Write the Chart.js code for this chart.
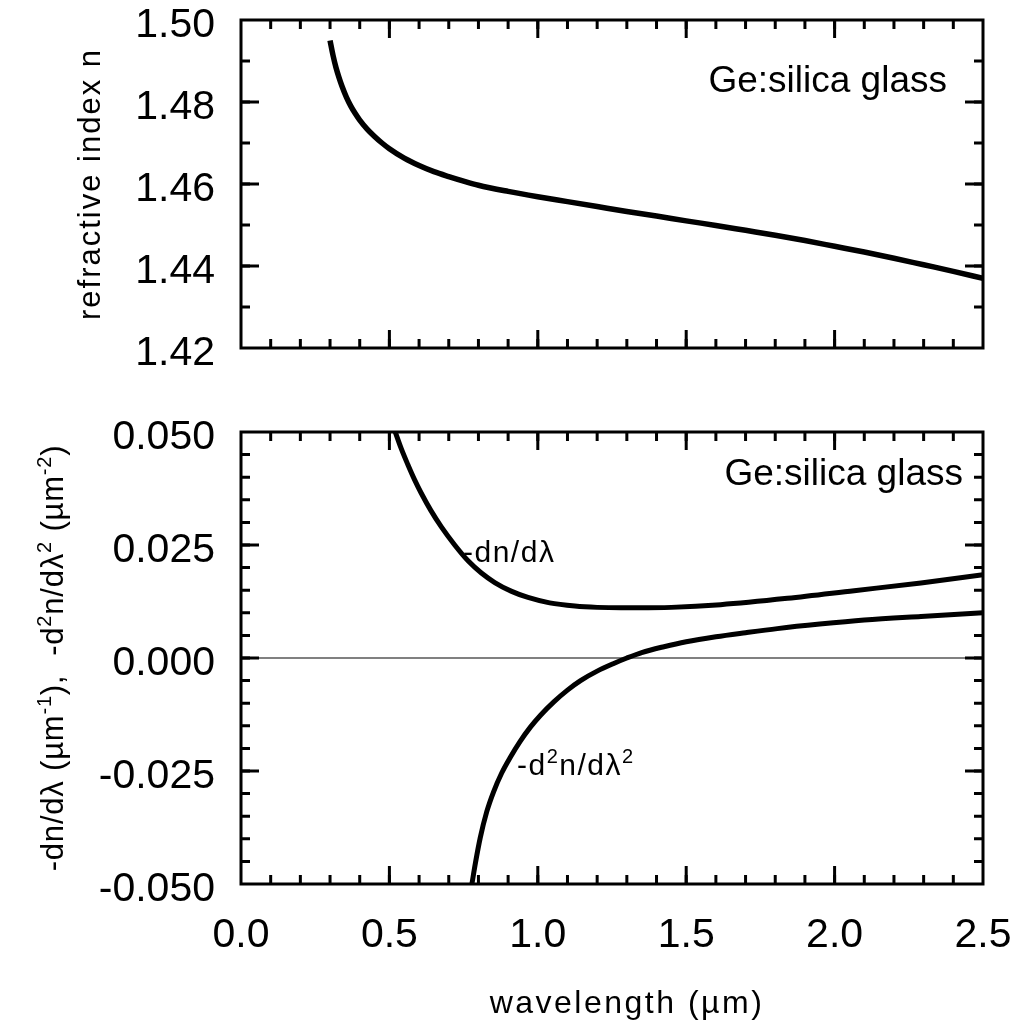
<!DOCTYPE html>
<html>
<head>
<meta charset="utf-8">
<script src="https://cdn.jsdelivr.net/npm/chart.js@4.4.1/dist/chart.umd.min.js"></script>
<style>
  html, body { margin: 0; padding: 0; background: #fff; }
  #wrap { position: relative; width: 1023px; height: 1023px; }
  #topChart { position: absolute; left: 0; top: 0; }
  #bottomChart { position: absolute; left: 0; top: 400px; }
</style>
</head>
<body>
<div id="wrap">
  <canvas id="topChart" width="1023" height="400"></canvas>
  <canvas id="bottomChart" width="1023" height="623"></canvas>
</div>
<script>
/* --- Data --- */
// top panel: refractive index n
const nWavelength = [0.30, 0.31, 0.32, 0.33, 0.34, 0.355, 0.37, 0.385, 0.40, 0.425, 0.45, 0.475, 0.50, 0.55, 0.60, 0.65, 0.70, 0.75, 0.80, 0.90, 1.00, 1.10, 1.20, 1.30, 1.40, 1.50, 1.60, 1.70, 1.80, 1.90, 2.00, 2.10, 2.20, 2.30, 2.40, 2.50];
const refractiveIndex = [1.4950, 1.4914, 1.4884, 1.4860, 1.4839, 1.4812, 1.4790, 1.4772, 1.4756, 1.4734, 1.4716, 1.4700, 1.4686, 1.4663, 1.4645, 1.4630, 1.4618, 1.4607, 1.4597, 1.4582, 1.4569, 1.4557, 1.4545, 1.4533, 1.4522, 1.4510, 1.4499, 1.4487, 1.4475, 1.4462, 1.4448, 1.4434, 1.4419, 1.4403, 1.4387, 1.4370];

// bottom panel: -dn/dλ
const dnWavelength = [0.517, 0.54, 0.562, 0.585, 0.607, 0.64, 0.675, 0.72, 0.765, 0.81, 0.855, 0.91, 0.967, 1.04, 1.125, 1.20, 1.28, 1.34, 1.45, 1.616, 1.841, 2.066, 2.291, 2.50];
const negDnDl = [0.0505, 0.0463, 0.0428, 0.0394, 0.0365, 0.0326, 0.0290, 0.0250, 0.0215, 0.0188, 0.0167, 0.0148, 0.0134, 0.0122, 0.0115, 0.0112, 0.0111, 0.0111, 0.0112, 0.0118, 0.0132, 0.0149, 0.0166, 0.0184];

// bottom panel: -d²n/dλ²
const d2nWavelength = [0.778, 0.79, 0.806, 0.828, 0.851, 0.878, 0.908, 0.94, 0.975, 1.01, 1.054, 1.10, 1.144, 1.20, 1.256, 1.30, 1.35, 1.425, 1.50, 1.60, 1.70, 1.807, 1.95, 2.10, 2.291, 2.50];
const negD2nDl2 = [-0.0500, -0.0453, -0.0398, -0.0340, -0.0296, -0.0255, -0.0219, -0.0185, -0.0153, -0.0126, -0.0097, -0.0071, -0.0050, -0.0029, -0.0012, 0.0000, 0.0012, 0.0025, 0.0036, 0.0047, 0.0056, 0.0065, 0.0075, 0.0084, 0.0092, 0.0100];

// zero reference line
const zeroX = [0, 2.5];
const zeroY = [0, 0];

// axes
const xRange = [0, 2.5];
const xMajor = 0.5, xMinor = 0.1;
const nRange = [1.42, 1.50];
const nMajor = 0.02, nMinor = 0.01;
const dRange = [-0.05, 0.05];
const dMajor = 0.025, dMinor = 0.005;

const FONT = "'Liberation Sans', Arial, sans-serif";
const toXY = (xs, ys) => xs.map((x, i) => ({ x, y: ys[i] }));

/* --- rich text helper (superscripts) --- */
function drawRich(ctx, runs, x, y, size, align, spacing) {
    ctx.letterSpacing = (spacing || 0) + 'px';
    const supSize = Math.round(size * 0.66);
    let total = 0;
    const widths = runs.map(([t, sup]) => {
        ctx.font = (sup ? supSize : size) + 'px ' + FONT;
        const w = ctx.measureText(t).width;
        total += w;
        return w;
    });
    let cx = align === 'right' ? x - total : align === 'center' ? x - total / 2 : x;
    ctx.textAlign = 'left';
    ctx.textBaseline = 'alphabetic';
    runs.forEach(([t, sup], i) => {
        ctx.font = (sup ? supSize : size) + 'px ' + FONT;
        ctx.fillText(t, cx, sup ? y - size * 0.4 : y);
        cx += widths[i];
    });
    ctx.letterSpacing = '0px';
}

/* --- frame + inward ticks on all four sides --- */
const frameTicks = {
    id: 'frameTicks',
    afterDatasetsDraw(chart, args, opts) {
        const { ctx, chartArea: a, scales: { x, y } } = chart;
        ctx.save();
        ctx.strokeStyle = '#000';
        ctx.lineWidth = 3;
        const mark = (scale, step, len) => {
            const n = Math.round((scale.max - scale.min) / step);
            for (let i = 1; i < n; i++) {
                const p = scale.getPixelForValue(scale.min + i * step);
                ctx.beginPath();
                if (scale.isHorizontal()) {
                    ctx.moveTo(p, a.bottom); ctx.lineTo(p, a.bottom - len);
                    ctx.moveTo(p, a.top); ctx.lineTo(p, a.top + len);
                } else {
                    ctx.moveTo(a.left, p); ctx.lineTo(a.left + len, p);
                    ctx.moveTo(a.right, p); ctx.lineTo(a.right - len, p);
                }
                ctx.stroke();
            }
        };
        mark(x, opts.xMinor, 9);
        mark(x, opts.xMajor, 18);
        mark(y, opts.yMinor, 9);
        mark(y, opts.yMajor, 18);
        ctx.strokeRect(a.left, a.top, a.right - a.left, a.bottom - a.top);
        ctx.restore();
    }
};

/* --- free text (annotations, axis titles) --- */
const freeText = {
    id: 'freeText',
    afterDraw(chart, args, opts) {
        const { ctx } = chart;
        ctx.save();
        ctx.fillStyle = '#000';
        (opts.items || []).forEach(item => {
            const pos = item.at(chart);
            ctx.save();
            ctx.translate(pos.x, pos.y);
            if (item.rotate) ctx.rotate(item.rotate);
            drawRich(ctx, item.runs, 0, 0, item.size, item.align, item.spacing);
            ctx.restore();
        });
        ctx.restore();
    }
};

function yAxis(range, step, digits) {
    return {
        type: 'linear',
        min: range[0], max: range[1],
        grid: { display: false, drawTicks: false },
        border: { display: false },
        ticks: {
            stepSize: step,
            color: '#000',
            font: { family: FONT, size: 41 },
            padding: 26,
            labelOffset: 6,
            callback: (v) => Number(v).toFixed(digits)
        },
        afterFit: (s) => { s.width = 241; s.paddingTop = 0; s.paddingBottom = 0; }
    };
}

function curve(xs, ys, width) {
    return {
        data: toXY(xs, ys),
        borderColor: '#000',
        borderWidth: width,
        pointRadius: 0,
        fill: false,
        cubicInterpolationMode: 'monotone'
    };
}

Chart.defaults.animation = false;
Chart.defaults.plugins.legend.display = false;
Chart.defaults.plugins.tooltip.enabled = false;

/* --- top panel --- */
new Chart(document.getElementById('topChart'), {
    type: 'line',
    data: { datasets: [curve(nWavelength, refractiveIndex, 5.5)] },
    options: {
        responsive: false,
        layout: { padding: { left: 0, top: 20, right: 40, bottom: 52 } },
        scales: {
            x: {
                type: 'linear', min: xRange[0], max: xRange[1],
                grid: { display: false, drawTicks: false },
                border: { display: false },
                ticks: { display: false, stepSize: xMajor },
                afterFit: (s) => { s.height = 0; s.paddingLeft = 0; s.paddingRight = 0; }
            },
            y: yAxis(nRange, nMajor, 2)
        },
        plugins: {
            frameTicks: { xMajor, xMinor, yMajor: nMajor, yMinor: nMinor },
            freeText: {
                items: [
                    { runs: [['Ge:silica glass']], size: 37, align: 'right',
                      at: (c) => ({ x: c.chartArea.right - 36, y: c.chartArea.top + 72 }) },
                    { runs: [['refractive index n']], size: 31, align: 'center', spacing: 2,
                      rotate: -Math.PI / 2,
                      at: (c) => ({ x: 100, y: (c.chartArea.top + c.chartArea.bottom) / 2 }) }
                ]
            }
        }
    },
    plugins: [frameTicks, freeText]
});

/* --- bottom panel --- */
new Chart(document.getElementById('bottomChart'), {
    type: 'line',
    data: {
        datasets: [
            curve(dnWavelength, negDnDl, 5),
            curve(d2nWavelength, negD2nDl2, 5),
            { data: toXY(zeroX, zeroY), borderColor: '#808080', borderWidth: 2, pointRadius: 0 }
        ]
    },
    options: {
        responsive: false,
        layout: { padding: { left: 0, top: 32, right: 40, bottom: 0 } },
        scales: {
            x: {
                type: 'linear', min: xRange[0], max: xRange[1],
                grid: { display: false, drawTicks: false },
                border: { display: false },
                ticks: {
                    stepSize: xMajor,
                    color: '#000',
                    font: { family: FONT, size: 41 },
                    padding: 27,
                    maxRotation: 0,
                    callback: (v) => Number(v).toFixed(1)
                },
                afterFit: (s) => { s.height = 139; s.paddingLeft = 0; s.paddingRight = 0; }
            },
            y: yAxis(dRange, dMajor, 3)
        },
        plugins: {
            frameTicks: { xMajor, xMinor, yMajor: dMajor, yMinor: dMinor },
            freeText: {
                items: [
                    { runs: [['Ge:silica glass']], size: 37, align: 'right',
                      at: (c) => ({ x: c.chartArea.right - 20, y: c.chartArea.top + 53 }) },
                    { runs: [['-dn/dλ']], size: 30, align: 'left', spacing: 1.5,
                      at: (c) => ({ x: c.scales.x.getPixelForValue(0.748), y: c.scales.y.getPixelForValue(0.0212) }) },
                    { runs: [['-d'], ['2', true], ['n/dλ'], ['2', true]], size: 30, align: 'left', spacing: 1.5,
                      at: (c) => ({ x: c.scales.x.getPixelForValue(0.93), y: c.scales.y.getPixelForValue(-0.0258) }) },
                    { runs: [['-dn/dλ (µm'], ['-1', true], ['),  -d'], ['2', true], ['n/dλ'], ['2', true], [' (µm'], ['-2', true], [')']],
                      size: 31, align: 'center', spacing: 0.8, rotate: -Math.PI / 2,
                      at: (c) => ({ x: 63, y: (c.chartArea.top + c.chartArea.bottom) / 2 }) },
                    { runs: [['wavelength (µm)']], size: 32, align: 'center', spacing: 2.5,
                      at: (c) => ({ x: 627, y: 613 }) }
                ]
            }
        }
    },
    plugins: [frameTicks, freeText]
});
</script>
</body>
</html>
